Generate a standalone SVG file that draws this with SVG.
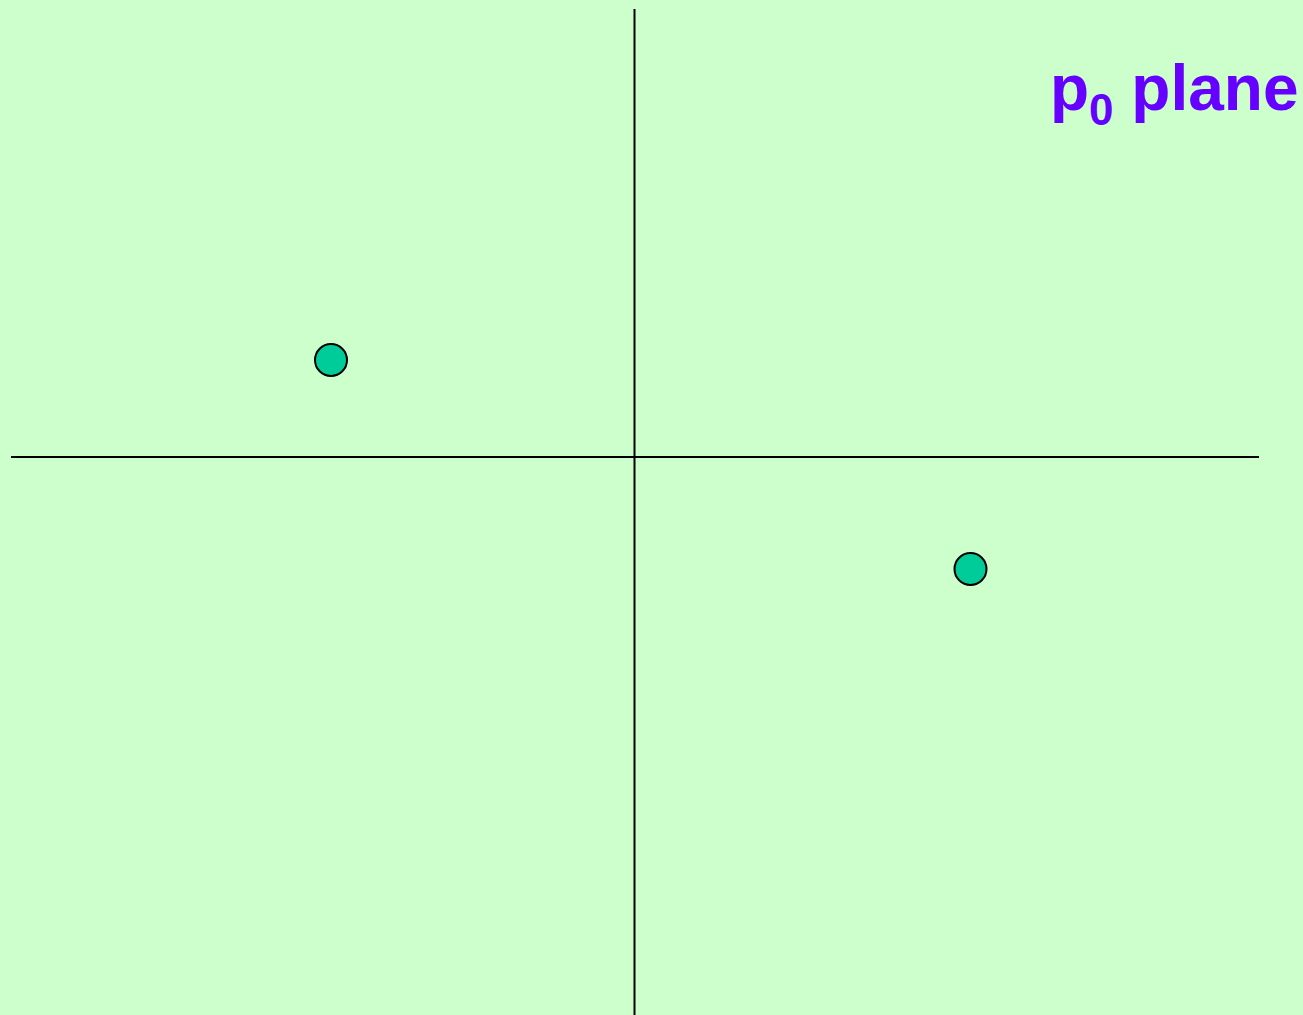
<svg xmlns="http://www.w3.org/2000/svg" width="1303" height="1015" viewBox="0 0 1303 1015">
<style>
.axis{stroke:#000;stroke-width:2;fill:none}
.pt{fill:#00CC99;stroke:#000;stroke-width:2}
.lbl{font-family:"Liberation Sans",Arial,sans-serif;font-weight:bold;fill:#6600FF}
</style>
<rect width="1303" height="1015" fill="#CCFFCC"/>
<g id="axes">
<line class="axis" x1="634.5" y1="9" x2="634.5" y2="1015"/>
<line class="axis" x1="11" y1="457" x2="1259" y2="457"/>
</g>
<g id="point1"><circle class="pt" cx="331" cy="360" r="16"/></g>
<g id="point2"><circle class="pt" cx="970.5" cy="569" r="16"/></g>
<g id="label">
<text class="lbl" x="1050" y="110" font-size="64">p<tspan font-size="44" dy="15">0</tspan><tspan dy="-15"> plane</tspan></text>
</g>
</svg>
